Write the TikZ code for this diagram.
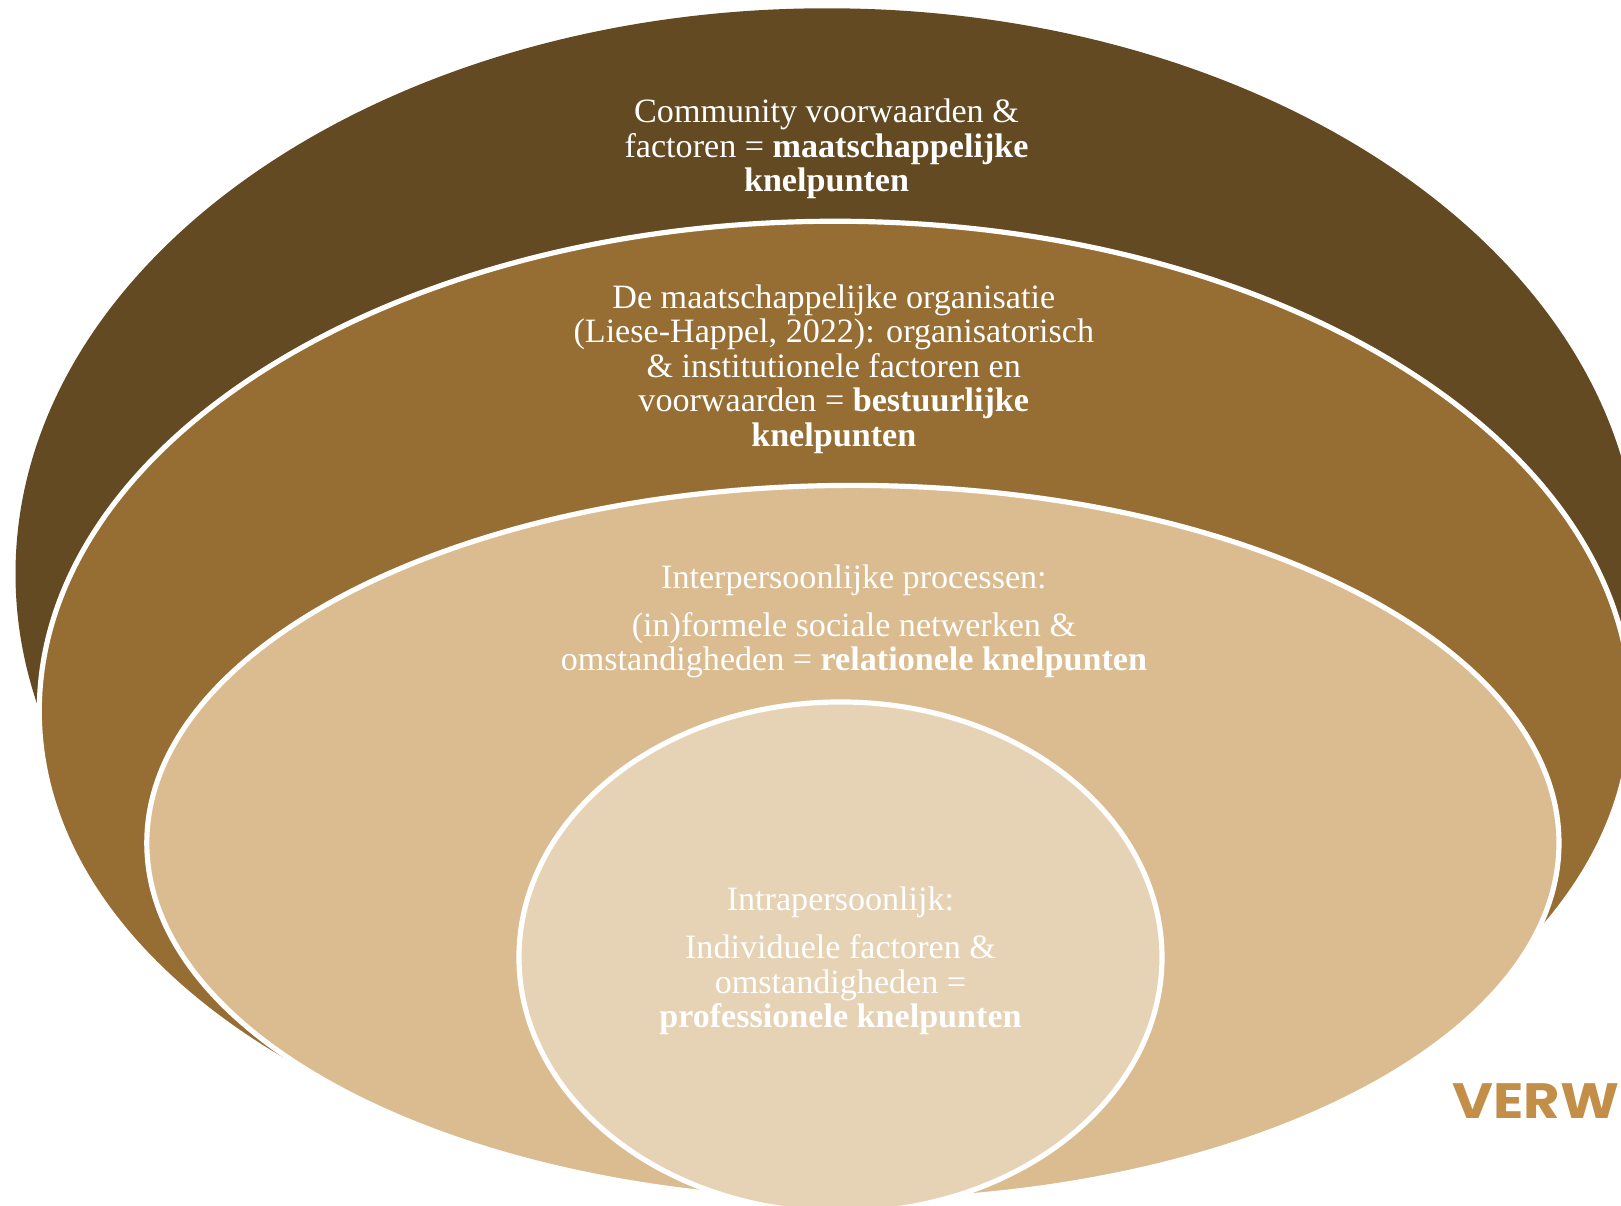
\documentclass[tikz,border=0pt]{standalone}
\usepackage{fontspec}
\setmainfont{Liberation Serif}
\newfontfamily\vfont[FakeStretch=1.13]{Poppins}
\definecolor{cdark}{HTML}{644A22}
\definecolor{cbrown}{HTML}{966D33}
\definecolor{ctan}{HTML}{DBBC90}
\definecolor{clight}{HTML}{E6D3B6}
\definecolor{cverw}{HTML}{C28E48}
\tikzset{
  ring/.style={draw=white,line width=5pt},
  lbl/.style={text=white,align=center,inner sep=0pt,font=\fontsize{33}{33.4}\selectfont},
}
\begin{document}
\begin{tikzpicture}[x=1pt,y=-1pt]
\useasboundingbox (0,0) rectangle (1568,1165.6);
\clip (0,0) rectangle (1568,1165.6);
\fill[white] (0,0) rectangle (1568,1165.6);
\fill[cdark] (800,555) ellipse [x radius=785,y radius=547];
\path[ring,fill=cbrown] (38,688) arc [start angle=180,end angle=90,x radius=770,y radius=469] -- ++(0,-11) arc [start angle=90,end angle=0,x radius=770,y radius=458] arc [start angle=0,end angle=-180,x radius=770,y radius=474] -- cycle;
\path[ring,fill=ctan] (825,815.5) ellipse [x radius=683,y radius=346];
\path[ring,fill=clight] (813,926) ellipse [x radius=311,y radius=247];
\node[lbl] (community) at (799.5,144) {Community voorwaarden \&\\factoren = \textbf{maatschappelijke}\\\textbf{knelpunten}};
\node[lbl] (organisatie) at (806.5,357) {De maatschappelijke organisatie\\(Liese-Happel, 2022): organisatorisch\\\& institutionele factoren en\\voorwaarden = \textbf{bestuurlijke}\\\textbf{knelpunten}};
\node[lbl] (inter) at (826,601) {Interpersoonlijke processen:\\[13pt](in)formele sociale netwerken \&\\omstandigheden = \textbf{relationele knelpunten}};
\node[lbl] (intra) at (813,929.5) {Intrapersoonlijk:\\[13pt]Individuele factoren \&\\omstandigheden =\\\textbf{professionele knelpunten}};
\node[anchor=base west,inner sep=0pt,text=cverw,font=\vfont\bfseries\fontsize{48}{48}\selectfont] (verw) at (1405,1081.7) {VERW};
\end{tikzpicture}
\end{document}
